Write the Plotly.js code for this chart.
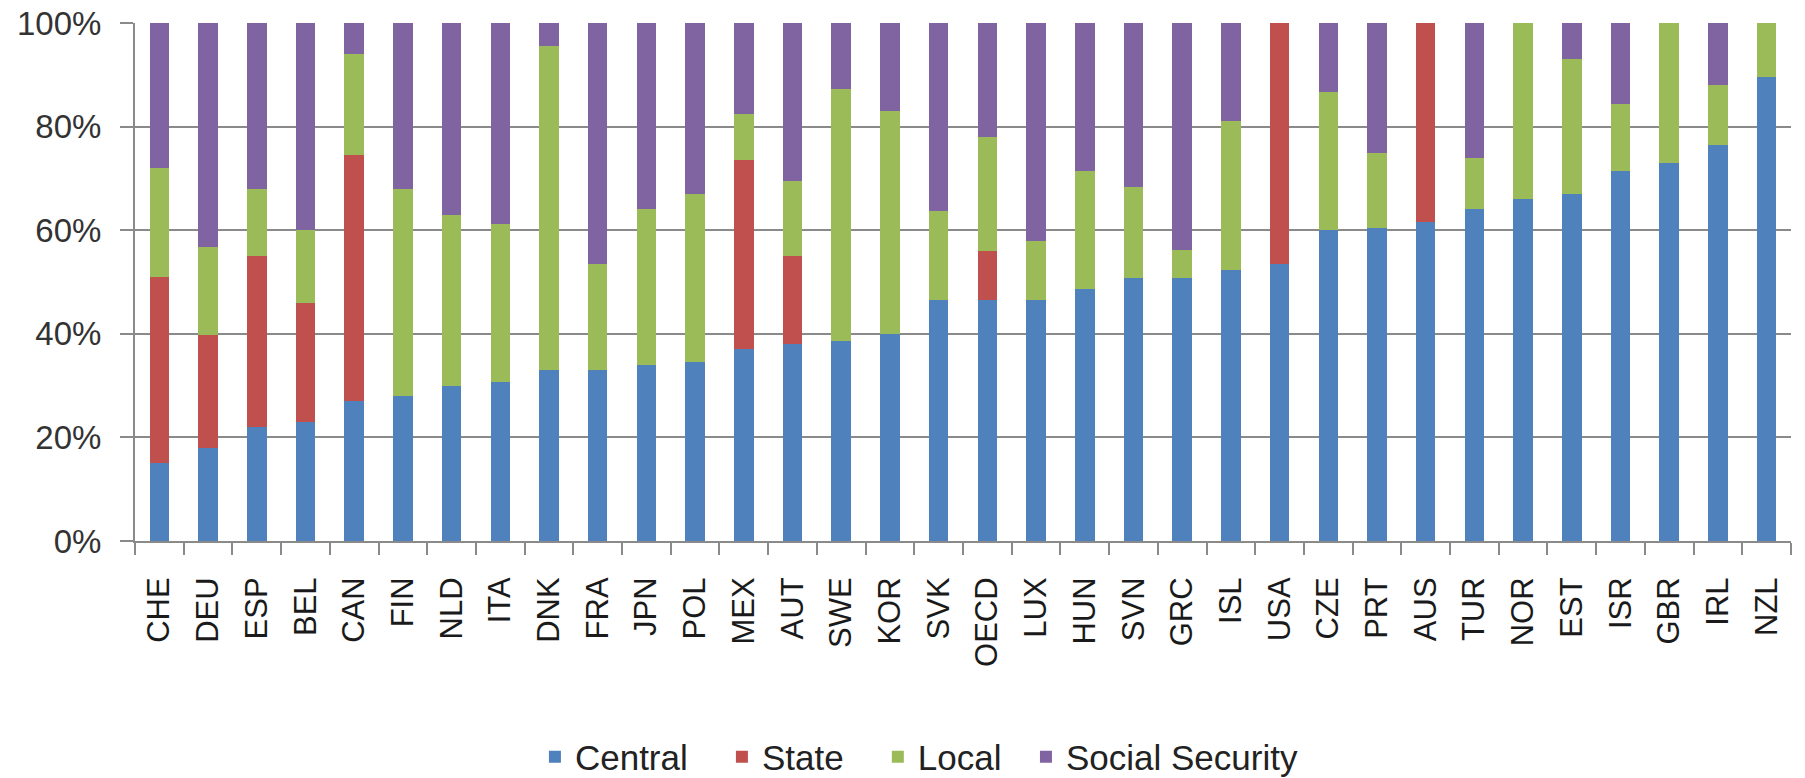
<!DOCTYPE html>
<html>
<head>
<meta charset="utf-8">
<script src="https://cdn.plot.ly/plotly-3.0.1.min.js"></script>
<style>
  html, body { margin: 0; padding: 0; background: #ffffff; }
  #chart { width: 1805px; height: 778px; }
</style>
</head>
<body>
<div id="chart"></div>
<script>
const countries = ["CHE","DEU","ESP","BEL","CAN","FIN","NLD","ITA","DNK","FRA","JPN","POL","MEX","AUT","SWE","KOR","SVK","OECD","LUX","HUN","SVN","GRC","ISL","USA","CZE","PRT","AUS","TUR","NOR","EST","ISR","GBR","IRL","NZL"];

const central        = [15, 18, 22, 23, 27, 28, 30, 30.7, 33, 33, 34, 34.5, 37, 38, 38.6, 40, 46.6, 46.6, 46.6, 48.6, 50.7, 50.7, 52.4, 53.5, 60, 60.5, 61.5, 64, 66, 67, 71.5, 73, 76.5, 89.5];
const state          = [36, 21.7, 33, 23, 47.5, 0, 0, 0, 0, 0, 0, 0, 36.5, 17, 0, 0, 0, 9.4, 0, 0, 0, 0, 0, 46.5, 0, 0, 38.5, 0, 0, 0, 0, 0, 0, 0];
const local          = [21, 17, 13, 14, 19.5, 40, 33, 30.5, 62.5, 20.5, 30, 32.5, 9, 14.5, 48.6, 43, 17.2, 22, 11.4, 22.8, 17.6, 5.5, 28.6, 0, 26.6, 14.5, 0, 10, 34, 26, 12.8, 27, 11.5, 10.5];
const socialSecurity = [28, 43.3, 32, 40, 6, 32, 37, 38.8, 4.5, 46.5, 36, 33, 17.5, 30.5, 12.8, 17, 36.2, 22, 42, 28.6, 31.7, 43.8, 19, 0, 13.4, 25, 0, 26, 0, 7, 15.7, 0, 12, 0];

const seriesNames = ["Central", "State", "Local", "Social Security"];
const seriesColors = ["#4F81BD", "#C0504D", "#9BBB59", "#8064A2"];
const seriesValues = [central, state, local, socialSecurity];
// extra trailing spacing after each legend entry (non-breaking spaces), to match the reference spacing
const legendPad = [3, 3, 2, 0];

const traces = seriesValues.map((vals, i) => ({
  type: "bar",
  name: seriesNames[i] + "\u00a0".repeat(legendPad[i]),
  x: countries,
  y: vals,
  marker: { color: seriesColors[i], line: { width: 0 } },
  hoverinfo: "x+y"
}));

const gridGray = "#8a8a8a";

const layout = {
  width: 1805,
  height: 778,
  barmode: "stack",
  bargap: 0.6,
  paper_bgcolor: "#ffffff",
  plot_bgcolor: "#ffffff",
  margin: { l: 135, r: 14, t: 23, b: 237, pad: 0 },
  font: { family: "Liberation Sans, Arial, sans-serif", color: "#222222" },
  xaxis: {
    type: "category",
    automargin: false,
    tickangle: -90,
    ticks: "outside",
    tickson: "boundaries",
    ticklen: 12,
    tickwidth: 2,
    tickcolor: gridGray,
    showline: true,
    linecolor: gridGray,
    linewidth: 2,
    showgrid: false,
    tickfont: { size: 31, family: "Liberation Sans, Arial, sans-serif", color: "#1a1a1a" },
    ticklabelstandoff: 22
  },
  yaxis: {
    automargin: false,
    range: [0, 100],
    dtick: 20,
    tick0: 0,
    ticksuffix: "%",
    ticks: "outside",
    ticklen: 13,
    tickwidth: 2,
    tickcolor: gridGray,
    showline: true,
    linecolor: gridGray,
    linewidth: 2,
    showgrid: true,
    gridcolor: gridGray,
    gridwidth: 2,
    zeroline: false,
    tickfont: { size: 33, family: "Liberation Sans, Arial, sans-serif", color: "#333333" },
    ticklabelstandoff: 12
  },
  showlegend: true,
  legend: {
    orientation: "h",
    x: 0.2415,
    xanchor: "left",
    yref: "container",
    y: 0.027,
    yanchor: "middle",
    font: { size: 35, family: "Liberation Sans, Arial, sans-serif", color: "#222222" },
    itemclick: false,
    traceorder: "normal"
  }
};

Plotly.newPlot("chart", traces, layout, { displayModeBar: false, staticPlot: true });
</script>
</body>
</html>
